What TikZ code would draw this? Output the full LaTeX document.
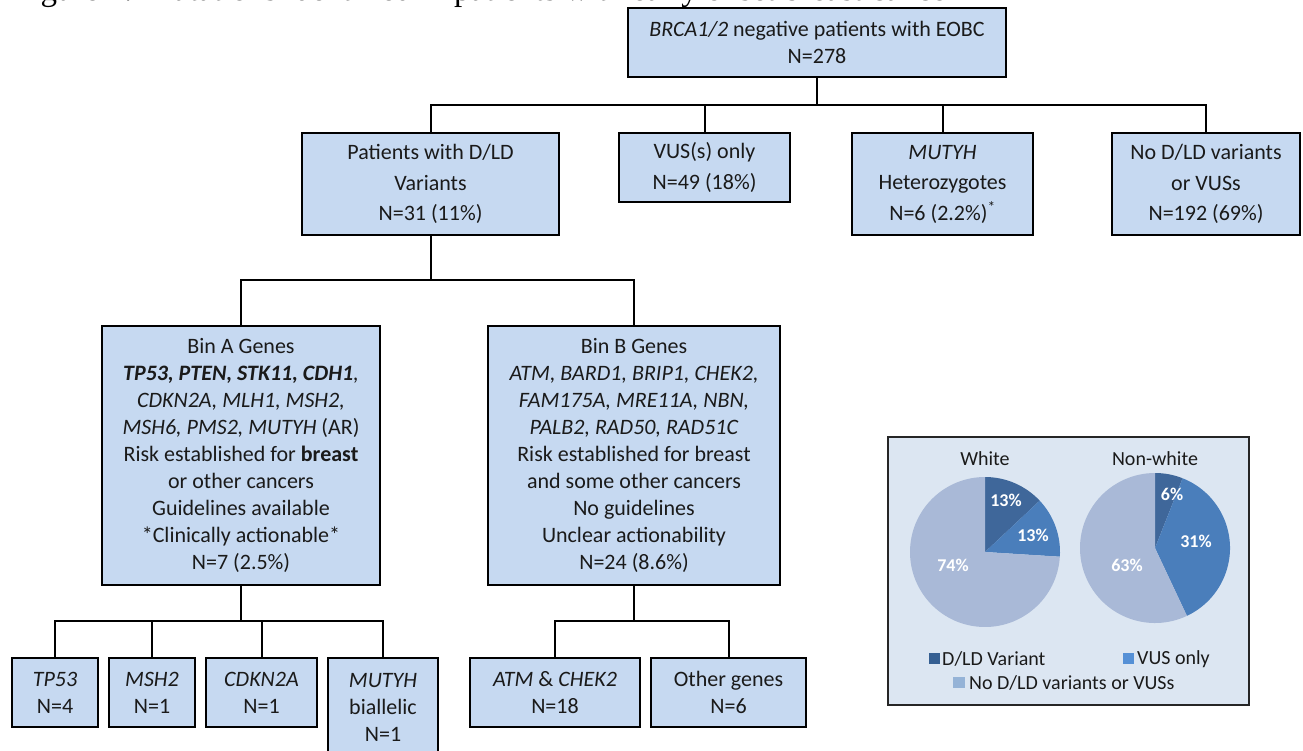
\documentclass[tikz,border=0pt]{standalone}
\usepackage{fontspec}
\setmainfont{Carlito}
\newfontfamily\capfont{Liberation Serif}
\definecolor{boxfill}{HTML}{C6D9F1}
\definecolor{panelfill}{HTML}{DCE6F2}
\definecolor{piedark}{HTML}{3F679A}
\definecolor{piemid}{HTML}{4A7EBB}
\definecolor{pielight}{HTML}{A9B9D7}
\definecolor{legdark}{HTML}{355F92}
\definecolor{legmid}{HTML}{5590D6}
\definecolor{leglight}{HTML}{95B3D7}
\definecolor{txt}{HTML}{1A1A1A}
\tikzset{
  box/.style={draw=black, line width=2pt, fill=boxfill, align=center, inner sep=0pt,
    font=\fontsize{22}{27}\selectfont, text=txt},
  lvone/.style={box, font=\fontsize{22}{30.5}\selectfont},
  conn/.style={line width=2pt, draw=black},
  pielabel/.style={font=\bfseries\fontsize{18}{20}\selectfont, text=white, inner sep=0pt},
  legtext/.style={font=\fontsize{20}{24}\selectfont, text=txt, anchor=west, inner sep=0pt},
  ptitle/.style={font=\fontsize{20}{24}\selectfont, text=txt, inner sep=0pt}
}
\begin{document}
\begin{tikzpicture}[x=1pt, y=-1pt]
\useasboundingbox (0,0) rectangle (1303,751);
% caption (cut off at top)
\node[anchor=base west, font=\capfont\fontsize{33}{36}\selectfont, inner sep=0pt] (cap) at (13,1)
  {Figure 1. Mutations identified in patients with early onset breast cancer};
% level 0
\node[box, minimum width=378, minimum height=69] (top) at (817,42.5)
  {\textit{BRCA1/2} negative patients with EOBC\\N=278};
% level 1
\node[lvone, minimum width=257, minimum height=102] (pat) at (430.5,184)
  {Patients with D/LD\\Variants\\N=31 (11\%)};
\node[lvone, minimum width=171, minimum height=69] (vus) at (704.5,167.5)
  {VUS(s) only\\N=49 (18\%)};
\node[lvone, minimum width=181, minimum height=102] (mut) at (942.5,184)
  {\textit{MUTYH}\\Heterozygotes\\N=6 (2.2\%)\textsuperscript{*}};
\node[lvone, minimum width=188, minimum height=102] (nod) at (1206,184)
  {No D/LD variants\\or VUSs\\N=192 (69\%)};
% level 2
\node[box, minimum width=278, minimum height=259] (binA) at (241,455.5)
  {Bin A Genes\\
   \textbf{\textit{TP53, PTEN, STK11, CDH1}}\textit{,}\\
   \textit{CDKN2A, MLH1, MSH2,}\\
   \textit{MSH6, PMS2, MUTYH} (AR)\\
   Risk established for \textbf{breast}\\
   or other cancers\\
   Guidelines available\\
   *Clinically actionable*\\
   N=7 (2.5\%)};
\node[box, minimum width=292, minimum height=259] (binB) at (634,455.5)
  {Bin B Genes\\
   \textit{ATM, BARD1, BRIP1, CHEK2,}\\
   \textit{FAM175A, MRE11A, NBN,}\\
   \textit{PALB2, RAD50, RAD51C}\\
   Risk established for breast\\
   and some other cancers\\
   No guidelines\\
   Unclear actionability\\
   N=24 (8.6\%)};
% level 3
\node[box, minimum width=86, minimum height=69] (tp53) at (55,692.5) {\textit{TP53}\\N=4};
\node[box, minimum width=86, minimum height=69] (msh2) at (152,692.5) {\textit{MSH2}\\N=1};
\node[box, minimum width=111, minimum height=69] (cdkn) at (261.5,692.5) {\textit{CDKN2A}\\N=1};
\node[box, minimum width=110, minimum height=98] (mutb) at (383,707) {\textit{MUTYH}\\biallelic\\N=1};
\node[box, minimum width=170, minimum height=69] (atm) at (555,692.5) {\textit{ATM} \& \textit{CHEK2}\\N=18};
\node[box, minimum width=155, minimum height=69] (oth) at (728.5,692.5) {Other genes\\N=6};
% buses
\coordinate (bus1) at (0,105);
\coordinate (bus2) at (0,280);
\coordinate (bus3) at (0,621);
\draw[conn] (top.south) -- (top.south |- bus1);
\draw[conn] (pat.north) |- (nod.north |- bus1) -- (nod.north);
\draw[conn] (vus.north) -- (vus.north |- bus1);
\draw[conn] (mut.north) -- (mut.north |- bus1);
\draw[conn] (pat.south) -- (pat.south |- bus2);
\draw[conn] (binA.north) |- (binB.north |- bus2) -- (binB.north);
\draw[conn] (binA.south) -- (binA.south |- bus3);
\draw[conn] (tp53.north) |- (mutb.north |- bus3) -- (mutb.north);
\draw[conn] (msh2.north) -- (msh2.north |- bus3);
\draw[conn] (cdkn.north) -- (cdkn.north |- bus3);
\draw[conn] (binB.south) -- (binB.south |- bus3);
\draw[conn] (atm.north) |- (oth.north |- bus3) -- (oth.north);
% pie panel
\fill[panelfill] (888,437) rectangle (1249,705);
\draw[line width=1.8pt, black!85] (888,437) rectangle (1249,705);
\node[ptitle] (tw) at (985,459) {White};
\node[ptitle] (tn) at (1155,459) {Non-white};
\begin{scope}[shift={(985,552)}]
  \fill[piedark] (0,0) -- (90:75pt) arc[start angle=90, end angle=43.2, radius=75pt] -- cycle;
  \fill[piemid] (0,0) -- (43.2:75pt) arc[start angle=43.2, end angle=-3.6, radius=75pt] -- cycle;
  \fill[pielight] (0,0) -- (-3.6:75pt) arc[start angle=-3.6, end angle=-270, radius=75pt] -- cycle;
\end{scope}
\begin{scope}[shift={(1155,548)}]
  \fill[piedark] (0,0) -- (90:75pt) arc[start angle=90, end angle=68.4, radius=75pt] -- cycle;
  \fill[piemid] (0,0) -- (68.4:75pt) arc[start angle=68.4, end angle=-64.8, radius=75pt] -- cycle;
  \fill[pielight] (0,0) -- (-64.8:75pt) arc[start angle=-64.8, end angle=-270, radius=75pt] -- cycle;
\end{scope}
\node[pielabel] (w1) at (1006,500) {13\%};
\node[pielabel] (w2) at (1033,535) {13\%};
\node[pielabel] (w3) at (953,565) {74\%};
\node[pielabel] (n1) at (1172,494) {6\%};
\node[pielabel] (n2) at (1196,541) {31\%};
\node[pielabel] (n3) at (1127,565) {63\%};
% legend
\fill[legdark] (929,653) rectangle (940,664);
\node[legtext] (l1) at (942,659) {D/LD Variant};
\fill[legmid] (1123,653) rectangle (1134,664);
\node[legtext] (l2) at (1137,659) {VUS only};
\fill[leglight] (953,677) rectangle (965,688);
\node[legtext] (l3) at (969,683) {No D/LD variants or VUSs};
\end{tikzpicture}
\end{document}
